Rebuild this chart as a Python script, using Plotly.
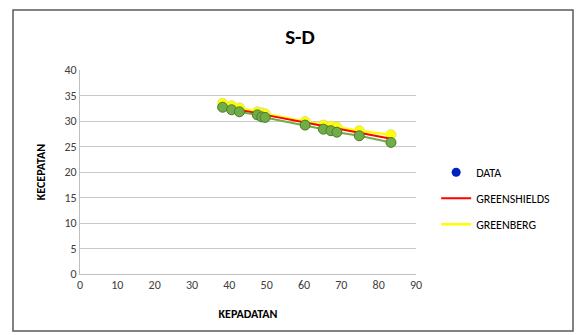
import plotly.graph_objects as go

# Data
kepadatan = [38.2, 40.6, 42.7, 47.5, 48.7, 49.6, 60.3, 65.2, 67.2, 68.8, 74.8, 83.3]
data_speed = [32.7, 32.2, 31.8, 31.2, 30.8, 30.7, 29.2, 28.4, 28.1, 27.8, 27.1, 25.8]
greenshields = [32.8, 32.5, 32.2, 31.5, 31.3, 31.2, 29.7, 29.0, 28.7, 28.5, 27.7, 26.5]
greenberg = [33.5, 33.0, 32.6, 31.8, 31.6, 31.4, 29.9, 29.2, 29.0, 28.8, 28.1, 27.3]

x_ticks = [0, 10, 20, 30, 40, 50, 60, 70, 80, 90]
y_ticks = [0, 5, 10, 15, 20, 25, 30, 35, 40]

FONT = "Carlito, Lato, 'Liberation Sans', sans-serif"

fig = go.Figure()

fig.add_trace(go.Scatter(x=kepadatan, y=data_speed, mode="markers", name="DATA",
                         legendgroup="a", legendrank=1,
                         marker=dict(color="#0020C0", size=9)))
fig.add_trace(go.Scatter(x=kepadatan, y=greenberg, mode="markers", showlegend=False,
                         legendgroup="z1",
                         marker=dict(color="#FFFF00", size=10,
                                     line=dict(color="#E8E070", width=1)),
                         hoverinfo="skip"))
fig.add_trace(go.Scatter(x=kepadatan, y=greenberg, mode="lines", name="GREENBERG",
                         legendgroup="c", legendrank=3,
                         line=dict(color="#FFFF00", width=2.5)))
fig.add_trace(go.Scatter(x=kepadatan, y=greenshields, mode="lines", name="GREENSHIELDS",
                         legendgroup="b", legendrank=2,
                         line=dict(color="#FF0000", width=2)))
fig.add_trace(go.Scatter(x=kepadatan, y=data_speed, mode="lines+markers", showlegend=False,
                         legendgroup="z2",
                         line=dict(color="#70AD47", width=2),
                         marker=dict(color="#70AD47", size=10,
                                     line=dict(color="#4E7A30", width=1)),
                         hoverinfo="skip"))

fig.update_layout(
    width=577, height=335,
    margin=dict(l=80, r=161, t=70, b=61),
    paper_bgcolor="white", plot_bgcolor="white",
    font=dict(family=FONT, size=12, color="#404040"),
    title=dict(text="<b>S-D</b>", x=300 / 577, xref="container", xanchor="center",
               y=1 - 37 / 335, yanchor="middle",
               font=dict(size=21, color="#000000", family=FONT)),
    showlegend=True,
    legend=dict(x=1.06, y=0.57, xanchor="left", yanchor="top",
                font=dict(size=12, color="#000000", family=FONT),
                tracegroupgap=7, traceorder="grouped",
                bgcolor="rgba(0,0,0,0)", itemwidth=30),
    xaxis=dict(range=[0, 90], tickvals=x_ticks, ticks="", showgrid=False,
               showline=True, linecolor="#BFBFBF", linewidth=1, zeroline=False,
               tickfont=dict(size=12, color="#404040"),
               title=dict(text="<b>KEPADATAN</b>", standoff=18,
                          font=dict(size=12, color="#000000"))),
    yaxis=dict(range=[0, 40], tickvals=y_ticks, ticks="", showgrid=True,
               gridcolor="#C8C8C8", gridwidth=1,
               showline=True, linecolor="#BFBFBF", linewidth=1, zeroline=False,
               tickfont=dict(size=12, color="#404040"),
               title=dict(text="<b>KECEPATAN</b>", standoff=16,
                          font=dict(size=12, color="#000000"))),
    shapes=[dict(type="rect", xref="paper", yref="paper",
                 x0=(13 - 80) / 336, x1=(573 - 80) / 336,
                 y0=(274 - 331) / 204, y1=(274 - 10) / 204,
                 line=dict(color="#595959", width=1.5), layer="below")],
)

fig.write_html("out.html", config={"displayModeBar": False},
               post_script="document.body.style.margin='0';")
